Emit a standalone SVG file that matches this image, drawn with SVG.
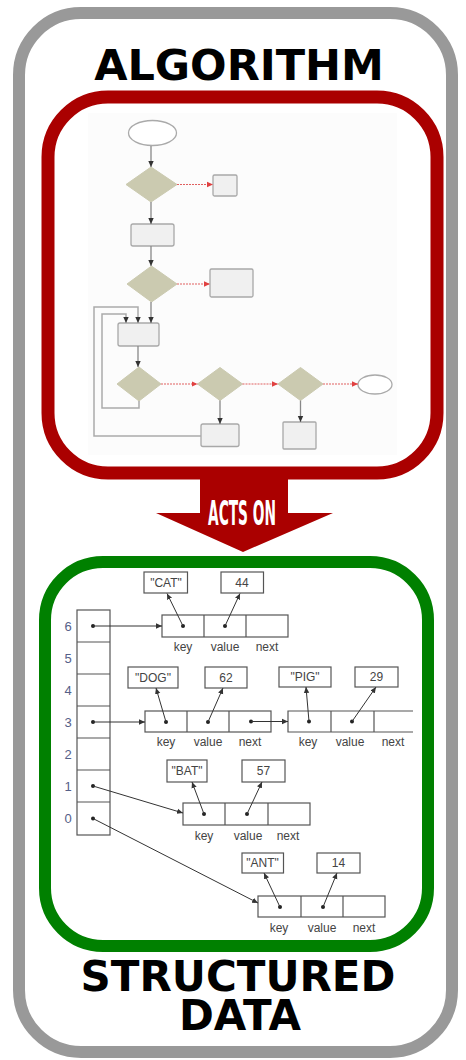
<svg xmlns="http://www.w3.org/2000/svg" width="466" height="1060" viewBox="0 0 466 1060">
<style>
.title{font-family:"DejaVu Sans",sans-serif;font-weight:bold;font-size:43px;fill:#000;text-anchor:middle}
.fs{fill:#f0f0f0;stroke:#a8a8a8;stroke-width:1.3}
.dia{fill:#cbcab0;stroke:#cbcab0;stroke-width:1}
.ell{fill:#fff;stroke:#aaa;stroke-width:1.3}
.fl{fill:none;stroke:#888;stroke-width:1.3}
.loop{fill:none;stroke:#aaa;stroke-width:1.5}
.rd{fill:none;stroke:#e06060;stroke-width:1;stroke-dasharray:2 1}
.cell{fill:none;stroke:#555;stroke-width:1.2}
.ha{fill:none;stroke:#333;stroke-width:1}
.t{font-family:"Liberation Sans",Arial,sans-serif;font-size:12px;fill:#444;text-anchor:middle}
.idx{font-family:"Liberation Sans",Arial,sans-serif;font-size:13px;fill:#556088;text-anchor:middle}
.dot{fill:#222}
</style>
<defs>
<marker id="ab" markerUnits="userSpaceOnUse" markerWidth="7" markerHeight="7" refX="6" refY="3.5" orient="auto"><path d="M0,0.8 L6,3.5 L0,6.2 Z" fill="#333"/></marker>
<marker id="ar" markerUnits="userSpaceOnUse" markerWidth="7" markerHeight="7" refX="6" refY="3.5" orient="auto"><path d="M0,0.8 L6,3.5 L0,6.2 Z" fill="#e04040"/></marker>
</defs>
<rect width="466" height="1060" fill="#fff"/>
<rect id="outer" x="19" y="13" width="433" height="1039" rx="62" fill="#fff" stroke="#999" stroke-width="12"/>
<text class="title" x="239" y="80">ALGORITHM</text>
<g id="algorithm">
<rect x="48" y="97" width="389" height="376" rx="60" fill="#fff" stroke="#aa0000" stroke-width="13"/>
<rect x="88" y="113" width="309" height="342" fill="#fcfcfc"/>
</g>
<g id="arrow-acts-on">
<polygon points="200,476 288,476 288,513 333,513 243,552 156,513 200,513" fill="#aa0000"/>
<text x="242" y="525" font-family="'DejaVu Sans Condensed','DejaVu Sans',sans-serif" font-weight="bold" font-size="34" fill="#fff" text-anchor="middle" textLength="68" lengthAdjust="spacingAndGlyphs">ACTS ON</text>
</g>
<g id="flow-nodes">
<g id="start"><ellipse class="ell" cx="152.5" cy="133" rx="24" ry="12.5"/></g>
<g id="d1"><polygon class="dia" points="151,167 177,184.5 151,202 126,184.5"/></g>
<g id="b1"><rect class="fs" x="213" y="175" width="24" height="21" rx="1.5"/></g>
<g id="r2"><rect class="fs" x="131" y="224" width="43" height="22" rx="2"/></g>
<g id="d2"><polygon class="dia" points="151.5,266 177,284 151.5,302 127,284"/></g>
<g id="b3"><rect class="fs" x="210" y="269" width="43" height="28" rx="1.5"/></g>
<g id="r4"><rect class="fs" x="118" y="323" width="41" height="23" rx="2"/></g>
<g id="d3"><polygon class="dia" points="139,367 161,384 139,401 117,384"/></g>
<g id="d4"><polygon class="dia" points="220,367.5 242.5,384 220,400.5 197.5,384"/></g>
<g id="d5"><polygon class="dia" points="300.5,367.5 323,384 300.5,400.5 278,384"/></g>
<g id="end"><ellipse class="ell" cx="375" cy="384.5" rx="17" ry="9.5"/></g>
<g id="r6"><rect class="fs" x="201" y="424" width="38" height="22.5" rx="2"/></g>
<g id="r7"><rect class="fs" x="283" y="422" width="33" height="27" rx="1"/></g>
</g>
<g id="green-frame">
<rect x="45" y="562" width="383" height="384" rx="58" fill="#fff" stroke="#008000" stroke-width="12"/>
</g>
<g id="hash-array">
<rect class="cell" x="77" y="610" width="33" height="225"/>
<path class="cell" d="M77,642H110M77,674H110M77,706H110M77,738H110M77,770H110M77,802H110"/>
<text class="idx" x="68" y="631">6</text>
<text class="idx" x="68" y="663">5</text>
<text class="idx" x="68" y="695">4</text>
<text class="idx" x="68" y="727">3</text>
<text class="idx" x="68" y="759">2</text>
<text class="idx" x="68" y="791">1</text>
<text class="idx" x="68" y="823">0</text>
</g>
<g id="node-cat">
<rect class="cell" x="162" y="615" width="126" height="22"/>
<path class="cell" d="M204,615V637M246,615V637"/>
<rect class="cell" x="144" y="572" width="43.5" height="21"/>
<text class="t" x="166" y="587">"CAT"</text>
<rect class="cell" x="221" y="572" width="42.5" height="21"/>
<text class="t" x="242" y="587">44</text>
<text class="t" x="183" y="651">key</text>
<text class="t" x="225" y="651">value</text>
<text class="t" x="267" y="651">next</text>
</g>
<g id="node-dog">
<rect class="cell" x="145" y="711" width="126" height="21"/>
<path class="cell" d="M187,711V732M229,711V732"/>
<rect class="cell" x="128" y="667" width="50" height="21"/>
<text class="t" x="153" y="682">"DOG"</text>
<rect class="cell" x="205" y="667" width="42" height="21"/>
<text class="t" x="226" y="682">62</text>
<text class="t" x="166" y="746">key</text>
<text class="t" x="208" y="746">value</text>
<text class="t" x="250" y="746">next</text>
</g>
<g id="node-pig">
<path class="cell" d="M413,711H288V732H413M331,711V732M374,711V732"/>
<rect class="cell" x="279" y="667" width="52" height="20"/>
<text class="t" x="305" y="681">"PIG"</text>
<rect class="cell" x="355" y="667" width="43" height="20"/>
<text class="t" x="376.5" y="681">29</text>
<text class="t" x="308" y="746">key</text>
<text class="t" x="350" y="746">value</text>
<text class="t" x="393" y="746">next</text>
</g>
<g id="node-bat">
<rect class="cell" x="183" y="803" width="127" height="22"/>
<path class="cell" d="M225,803V825M268,803V825"/>
<rect class="cell" x="167" y="760" width="40" height="22"/>
<text class="t" x="187" y="775">"BAT"</text>
<rect class="cell" x="242" y="760" width="43" height="22"/>
<text class="t" x="263.5" y="775">57</text>
<text class="t" x="204" y="840">key</text>
<text class="t" x="248" y="840">value</text>
<text class="t" x="288" y="840">next</text>
</g>
<g id="node-ant">
<rect class="cell" x="258" y="896" width="127" height="21"/>
<path class="cell" d="M301,896V917M343,896V917"/>
<rect class="cell" x="242" y="853" width="41.5" height="20"/>
<text class="t" x="262.5" y="867">"ANT"</text>
<rect class="cell" x="317" y="853" width="43" height="20"/>
<text class="t" x="338.5" y="867">14</text>
<text class="t" x="279" y="932">key</text>
<text class="t" x="322" y="932">value</text>
<text class="t" x="364" y="932">next</text>
</g>
<g id="connectors">
<path class="fl" d="M151,146V167" marker-end="url(#ab)"/>
<path class="rd" d="M177,184.5H213" marker-end="url(#ar)"/>
<path class="fl" d="M151,202V224" marker-end="url(#ab)"/>
<path class="fl" d="M151,246V266" marker-end="url(#ab)"/>
<path class="rd" d="M177,284H210" marker-end="url(#ar)"/>
<path class="fl" d="M151,302V323" marker-end="url(#ab)"/>
<path class="loop" d="M201,436H94V307H138V323" marker-end="url(#ab)"/>
<path class="loop" d="M139,401V408H102V314H126V323" marker-end="url(#ab)"/>
<path class="fl" d="M138,346V367" marker-end="url(#ab)"/>
<path class="rd" d="M161,384H197.5" marker-end="url(#ar)"/>
<path class="rd" d="M242.5,384H278" marker-end="url(#ar)"/>
<path class="rd" d="M323,384H358" marker-end="url(#ar)"/>
<path class="fl" d="M220,400.5V424" marker-end="url(#ab)"/>
<path class="fl" d="M300.5,400.5V422" marker-end="url(#ab)"/>
<g id="hash-links">
<circle class="dot" cx="93" cy="626" r="2"/><path class="ha" d="M93,626H162" marker-end="url(#ab)"/>
<circle class="dot" cx="183" cy="626" r="2"/><path class="ha" d="M183,626L167,593.5" marker-end="url(#ab)"/>
<circle class="dot" cx="225" cy="626" r="2"/><path class="ha" d="M225,626L240,593.5" marker-end="url(#ab)"/>
<circle class="dot" cx="93" cy="722" r="2"/><path class="ha" d="M93,722H145" marker-end="url(#ab)"/>
<circle class="dot" cx="166" cy="722" r="2"/><path class="ha" d="M166,722L156,688" marker-end="url(#ab)"/>
<circle class="dot" cx="208" cy="722" r="2"/><path class="ha" d="M208,722L223,688" marker-end="url(#ab)"/>
<circle class="dot" cx="251" cy="721.5" r="2"/><path class="ha" d="M251,721.5H288" marker-end="url(#ab)"/>
<circle class="dot" cx="309" cy="721.5" r="2"/><path class="ha" d="M309,721.5L306,687" marker-end="url(#ab)"/>
<circle class="dot" cx="352" cy="721.5" r="2"/><path class="ha" d="M352,721.5L376,687" marker-end="url(#ab)"/>
<circle class="dot" cx="93" cy="786" r="2"/><path class="ha" d="M93,786L183,813" marker-end="url(#ab)"/>
<circle class="dot" cx="204" cy="814" r="2"/><path class="ha" d="M204,814L192,782" marker-end="url(#ab)"/>
<circle class="dot" cx="247" cy="814" r="2"/><path class="ha" d="M247,814L262,782" marker-end="url(#ab)"/>
<circle class="dot" cx="93" cy="818.5" r="2"/><path class="ha" d="M93,818.5L258,903" marker-end="url(#ab)"/>
<circle class="dot" cx="280" cy="907" r="2"/><path class="ha" d="M280,907L264,873" marker-end="url(#ab)"/>
<circle class="dot" cx="323" cy="907" r="2"/><path class="ha" d="M323,907L337,873" marker-end="url(#ab)"/>
</g>
</g>
<text class="title" style="font-size:42px"><tspan x="238" y="991">STRUCTURED</tspan><tspan x="240" y="1030">DATA</tspan></text>
</svg>
